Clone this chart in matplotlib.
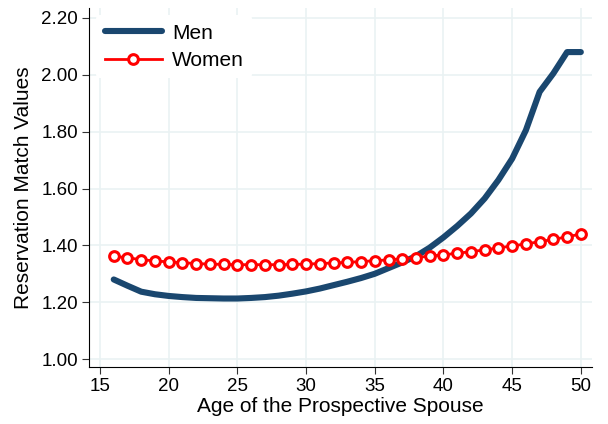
import matplotlib
matplotlib.use("Agg")
import matplotlib.pyplot as plt
from matplotlib.ticker import FormatStrFormatter

ages = list(range(16, 51))
men = [1.280, 1.258, 1.237, 1.228, 1.222, 1.218, 1.215, 1.214, 1.213, 1.213,
       1.215, 1.218, 1.223, 1.230, 1.238, 1.248, 1.260, 1.272, 1.285, 1.300,
       1.320, 1.340, 1.362, 1.392, 1.428, 1.468, 1.512, 1.565, 1.630, 1.705,
       1.805, 1.940, 2.005, 2.080, 2.080]
women = [1.362, 1.356, 1.350, 1.345, 1.342, 1.339, 1.336, 1.334, 1.333, 1.332,
         1.332, 1.332, 1.332, 1.333, 1.334, 1.336, 1.338, 1.340, 1.343, 1.346,
         1.349, 1.353, 1.357, 1.362, 1.367, 1.372, 1.378, 1.384, 1.391, 1.398,
         1.405, 1.413, 1.421, 1.430, 1.440]
xticks = [15, 20, 25, 30, 35, 40, 45, 50]
yticks = [1.0, 1.2, 1.4, 1.6, 1.8, 2.0, 2.2]

plt.rcParams['font.family'] = ['Liberation Sans', 'DejaVu Sans']

fig = plt.figure(figsize=(6.08, 4.24), dpi=100)
ax = fig.add_axes([0.1464, 0.1344, 0.827, 0.8467])

ax.plot(ages, men, color="#1a476f", lw=4.4, solid_capstyle="round", label="Men", zorder=3)
ax.plot(ages, women, color="red", lw=2, marker="o", ms=7, mew=2.2,
        mfc="white", mec="red", label="Women", zorder=4)

ax.set_xlim(14.2, 50.8)
ax.set_ylim(0.972, 2.235)
ax.set_xticks(xticks)
ax.set_yticks(yticks)
ax.yaxis.set_major_formatter(FormatStrFormatter("%.2f"))
ax.grid(True, color="#eaf2f3", lw=1.2)
ax.set_axisbelow(True)

for s in ["top", "right"]:
    ax.spines[s].set_visible(False)
ax.tick_params(labelsize=13.5, length=5, color="#333333", pad=3)

ax.set_xlabel("Age of the Prospective Spouse", fontsize=15, labelpad=1)
ax.set_ylabel("Reservation Match Values", fontsize=15, labelpad=6)

leg = ax.legend(loc="upper left", fontsize=15, frameon=True, facecolor="white",
                edgecolor="none", framealpha=1, handlelength=2.75,
                borderaxespad=0.35, borderpad=0.4, handletextpad=0.48,
                labelspacing=0.4)

plt.savefig("out.png", dpi=100)
